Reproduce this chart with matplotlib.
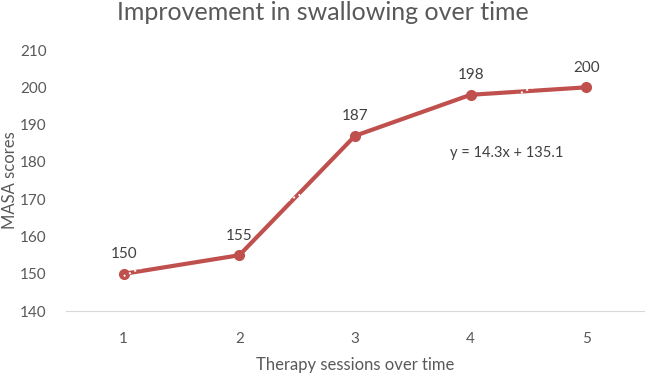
import numpy as np
import matplotlib.pyplot as plt

plt.rcParams['font.family'] = ['Lato', 'DejaVu Sans']

sessions = [1, 2, 3, 4, 5]
scores = [150, 155, 187, 198, 200]
slope, intercept = 14.3, 135.1

red = "#C0504D"
grey = "#595959"

fig = plt.figure(figsize=(6.46, 3.79), dpi=100)
ax = fig.add_axes([0.102, 0.179, 0.895, 0.689])

ax.plot(sessions, scores, color=red, lw=3, marker="o", ms=7, zorder=3)

# linear trendline (white dotted, as in the original)
xs = np.array([1, 5])
ax.plot(xs, slope * xs + intercept, color="white", lw=1.4, ls=(0, (1, 2)), zorder=4)

for x, y in zip(sessions, scores):
    ax.annotate(str(y), (x, y), xytext=(0, 9), textcoords="offset points",
                ha="center", va="bottom", fontsize=11, color="#404040")

ax.text(4.31, 182.4, "y = 14.3x + 135.1", ha="center", va="center",
        fontsize=10.5, color="#404040")

ax.set_xlim(0.5, 5.5)
ax.set_ylim(140, 210)
ax.set_yticks(range(140, 211, 10))
ax.set_xticks(sessions)

for s in ["top", "right", "left"]:
    ax.spines[s].set_visible(False)
ax.spines["bottom"].set_color("#D9D9D9")
ax.tick_params(length=0, labelsize=11, colors=grey)
ax.tick_params(axis="x", pad=15)
ax.tick_params(axis="y", pad=14)

ax.set_ylabel("MASA scores", fontsize=12, color=grey, labelpad=1)
ax.set_xlabel("Therapy sessions over time", fontsize=12, color=grey, labelpad=8)
fig.suptitle("Improvement in swallowing over time", fontsize=18, color=grey, y=0.998)

fig.savefig("out.png", dpi=100)
